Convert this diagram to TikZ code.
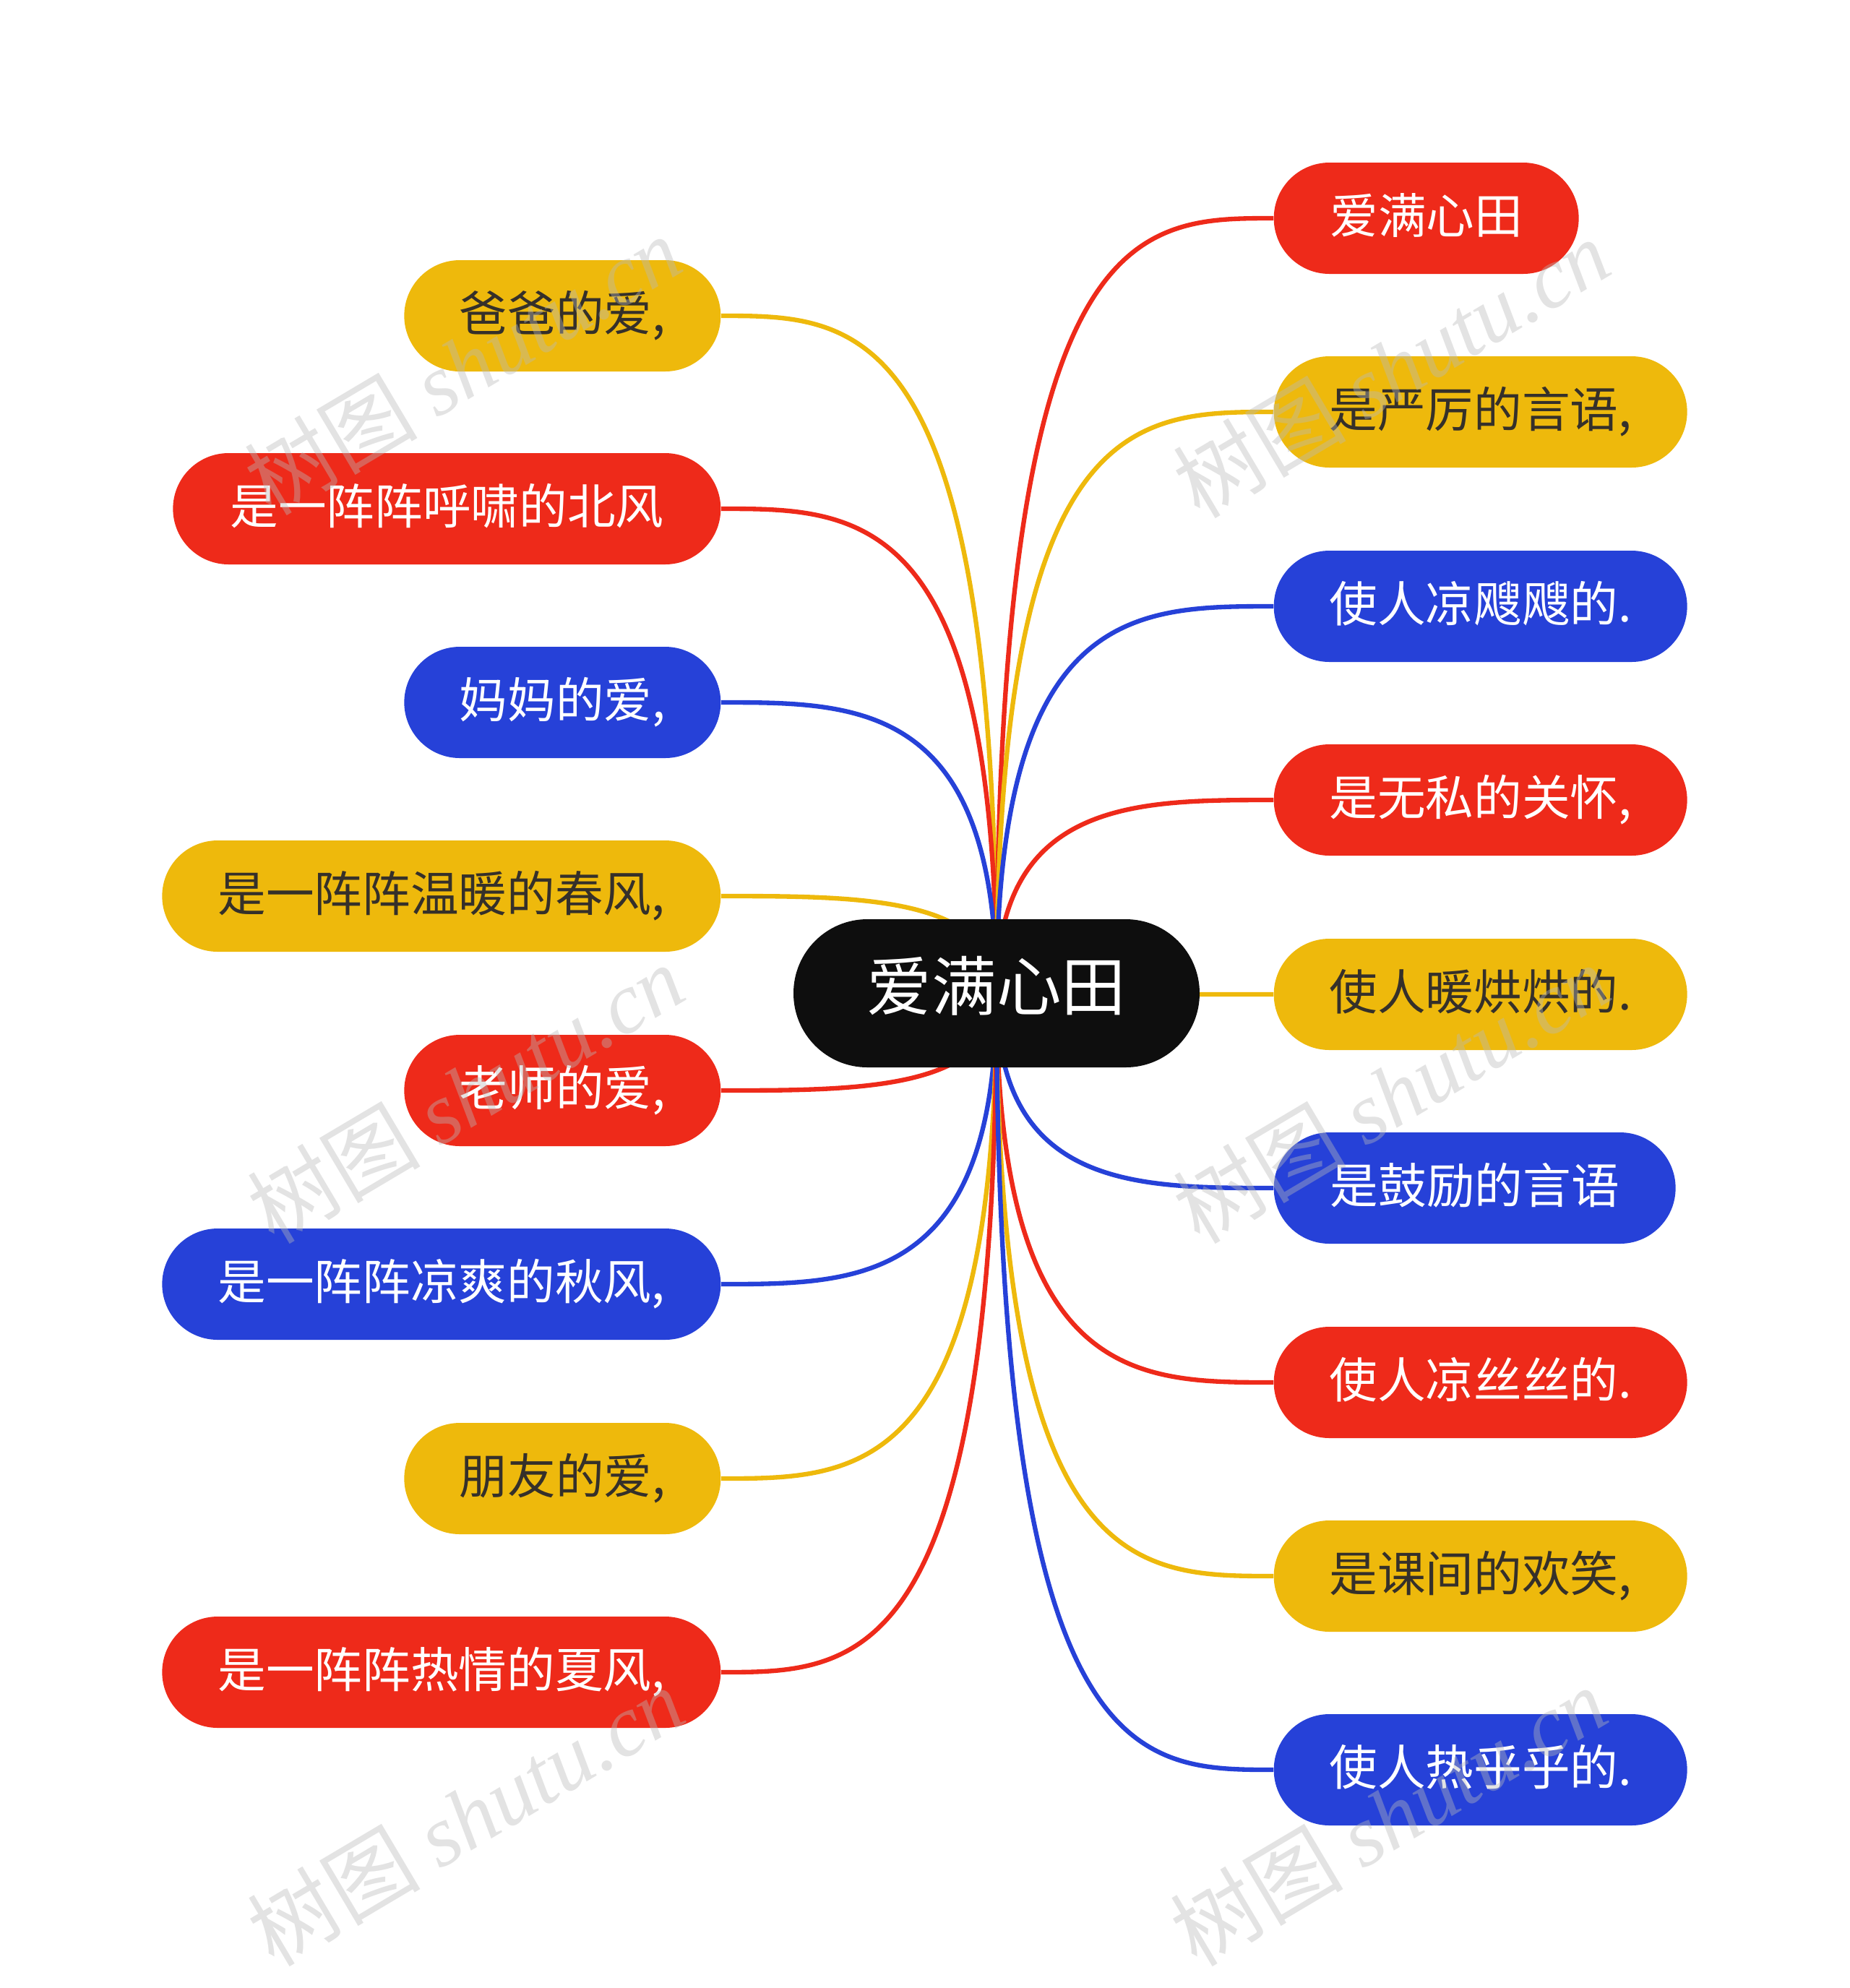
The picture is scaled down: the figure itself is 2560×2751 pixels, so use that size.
\documentclass[tikz,border=0pt]{standalone}
\usepackage{fontspec}
\setmainfont{Noto Sans CJK SC}
\newfontfamily\wmserif{Liberation Serif}
\usetikzlibrary{calc,backgrounds}
\definecolor{cred}{HTML}{EE2A1A}
\definecolor{cyel}{HTML}{EEB90C}
\definecolor{cblue}{HTML}{2641D8}
\definecolor{cblack}{HTML}{0E0E0E}
\definecolor{ytext}{HTML}{35302A}
\tikzset{
  pill/.style={rectangle, rounded corners=23.1pt, minimum height=46.2pt, inner sep=0pt,
    font=\fontsize{20pt}{20pt}\selectfont, text height=1.26em, text depth=0em},
  rednode/.style={pill, fill=cred, text=white},
  yelnode/.style={pill, fill=cyel, text=ytext},
  bluenode/.style={pill, fill=cblue, text=white},
  centernode/.style={rectangle, rounded corners=30.7pt, minimum height=61.5pt, minimum width=168.6pt,
    inner sep=0pt, fill=cblack, text=white, font=\fontsize{26.9pt}{26.9pt}\selectfont,
    text height=1.43em, text depth=0em},
  connline/.style={line width=1.9pt},
  wm/.style={text=gray!55, opacity=0.4, rotate=30.7, font=\fontsize{36pt}{36pt}\selectfont}
}
\newcommand\linkto[2]{\draw[connline,#1] (c.center) .. controls (c.center |- #2) and ($(c.center |- #2)!0.5!(#2)$) .. (#2);}
\begin{document}
\begin{tikzpicture}[x=0.3pt,y=-0.3pt]
\useasboundingbox (0,0) rectangle (2560,2751);
\node[centernode] (c) at (1379,1374.5) {爱满心田};
% left nodes
\node[yelnode, minimum width=131.4pt, anchor=east] (L1) at (998,437) {爸爸的爱,};
\node[rednode, minimum width=227.4pt, anchor=east] (L2) at (998,704) {是一阵阵呼啸的北风};
\node[bluenode, minimum width=131.4pt, anchor=east] (L3) at (998,972) {妈妈的爱,};
\node[yelnode, minimum width=231.9pt, anchor=east] (L4) at (998,1240) {是一阵阵温暖的春风,};
\node[rednode, minimum width=131.4pt, anchor=east] (L5) at (998,1509) {老师的爱,};
\node[bluenode, minimum width=231.9pt, anchor=east] (L6) at (998,1777) {是一阵阵凉爽的秋风,};
\node[yelnode, minimum width=131.4pt, anchor=east] (L7) at (998,2046) {朋友的爱,};
\node[rednode, minimum width=231.9pt, anchor=east] (L8) at (998,2314) {是一阵阵热情的夏风,};
% right nodes
\node[rednode, minimum width=126.6pt, anchor=west] (R1) at (1762,302) {爱满心田};
\node[yelnode, minimum width=171.6pt, anchor=west] (R2) at (1762,570) {是严厉的言语,};
\node[bluenode, minimum width=171.6pt, anchor=west] (R3) at (1762,839) {使人凉飕飕的.};
\node[rednode, minimum width=171.6pt, anchor=west] (R4) at (1762,1107) {是无私的关怀,};
\node[yelnode, minimum width=171.6pt, anchor=west] (R5) at (1762,1376) {使人暖烘烘的.};
\node[bluenode, minimum width=166.8pt, anchor=west] (R6) at (1762,1644) {是鼓励的言语};
\node[rednode, minimum width=171.6pt, anchor=west] (R7) at (1762,1913) {使人凉丝丝的.};
\node[yelnode, minimum width=171.6pt, anchor=west] (R8) at (1762,2181) {是课间的欢笑,};
\node[bluenode, minimum width=171.6pt, anchor=west] (R9) at (1762,2449) {使人热乎乎的.};
\begin{scope}[on background layer]
\linkto{cyel}{L1.east}
\linkto{cred}{L2.east}
\linkto{cblue}{L3.east}
\linkto{cyel}{L4.east}
\linkto{cred}{L5.east}
\linkto{cblue}{L6.east}
\linkto{cyel}{L7.east}
\linkto{cred}{L8.east}
\linkto{cred}{R1.west}
\linkto{cyel}{R2.west}
\linkto{cblue}{R3.west}
\linkto{cred}{R4.west}
\linkto{cyel}{R5.west}
\linkto{cblue}{R6.west}
\linkto{cred}{R7.west}
\linkto{cyel}{R8.west}
\linkto{cblue}{R9.west}
\end{scope}
% watermarks
\node[wm] (w1) at (640,505) {树图 {\wmserif\itshape shutu.cn}};
\node[wm] (w2) at (1925,509) {树图 {\wmserif\itshape shutu.cn}};
\node[wm] (w3) at (644,1513) {树图 {\wmserif\itshape shutu.cn}};
\node[wm] (w4) at (1925,1513) {树图 {\wmserif\itshape shutu.cn}};
\node[wm] (w5) at (644,2513) {树图 {\wmserif\itshape shutu.cn}};
\node[wm] (w6) at (1921,2513) {树图 {\wmserif\itshape shutu.cn}};
\end{tikzpicture}
\end{document}
